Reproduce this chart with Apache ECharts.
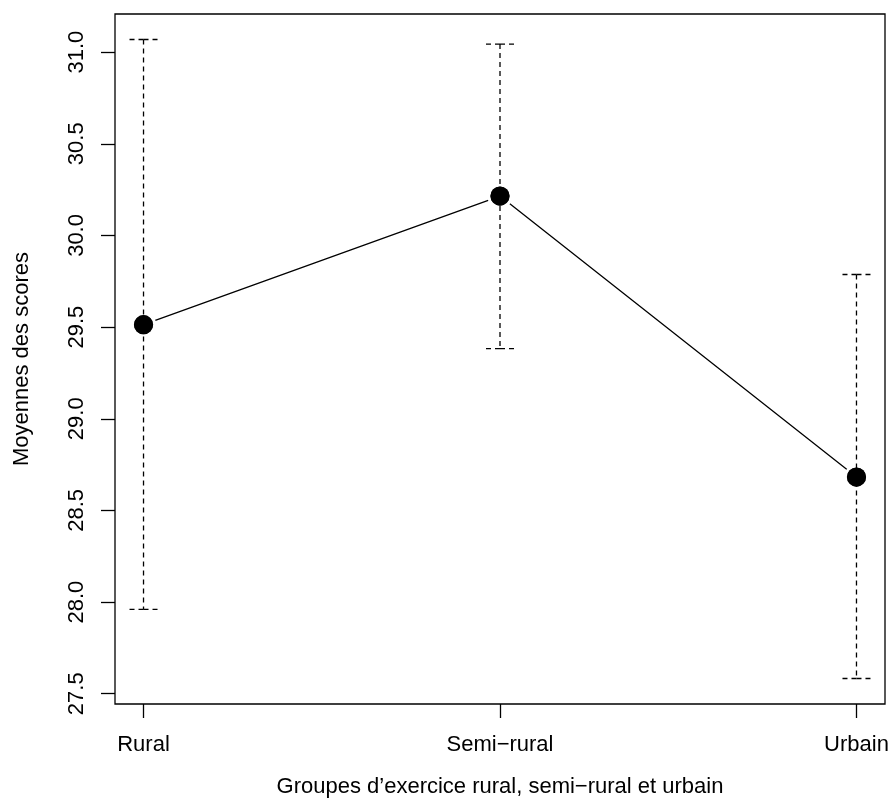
<!DOCTYPE html>
<html>
<head>
<meta charset="utf-8">
<script src="https://cdn.jsdelivr.net/npm/echarts@6/dist/echarts.min.js"></script>
<style>
html,body{margin:0;padding:0;background:#fff;}
#chart{width:892px;height:811px;}
</style>
</head>
<body>
<div id="chart"></div>
<script>
const categories = ['Rural', 'Semi\u2212rural', 'Urbain'];
const means = [29.513, 30.215, 28.682];
const lower = [27.960, 29.383, 27.583];
const upper = [31.069, 31.044, 29.787];
const yTicks = [27.5, 28.0, 28.5, 29.0, 29.5, 30.0, 30.5, 31.0];
const xTicks = [1, 2, 3];

const FONT = "'Liberation Sans', Arial, Helvetica, sans-serif";
const FS = 22;

const meanData = means.map((m, i) => [i + 1, m]);
const barData = means.map((m, i) => [i + 1, lower[i], upper[i]]);

const chart = echarts.init(document.getElementById('chart'), null, {renderer: 'canvas'});
chart.setOption({
  animation: false,
  backgroundColor: '#ffffff',
  grid: {left: 115, right: 7, top: 14, bottom: 107, show: true, borderColor: '#000', borderWidth: 1.3, backgroundColor: 'transparent'},
  xAxis: {
    type: 'value', min: 0.92, max: 3.08,
    name: 'Groupes d\u2019exercice rural, semi\u2212rural et urbain',
    nameLocation: 'middle', nameGap: 72,
    nameTextStyle: {fontFamily: FONT, fontSize: FS, color: '#000'},
    axisLine: {show: false},
    splitLine: {show: false},
    axisTick: {show: true, inside: false, length: 14, customValues: xTicks, lineStyle: {color: '#000', width: 1.3}},
    axisLabel: {customValues: xTicks, margin: 30, fontFamily: FONT, fontSize: FS, color: '#000',
      formatter: v => categories[Math.round(v) - 1]}
  },
  yAxis: {
    type: 'value', min: 27.444, max: 31.208,
    name: 'Moyennes des scores',
    nameLocation: 'middle', nameGap: 82,
    nameTextStyle: {fontFamily: FONT, fontSize: FS, color: '#000'},
    axisLine: {show: false},
    splitLine: {show: false},
    axisTick: {show: true, inside: false, length: 14, customValues: yTicks, lineStyle: {color: '#000', width: 1.3}},
    axisLabel: {customValues: yTicks, margin: 27, rotate: 90, fontFamily: FONT, fontSize: FS, color: '#000',
      formatter: v => v.toFixed(1)}
  },
  series: [
    {
      type: 'line', data: meanData, z: 2,
      symbol: 'circle', symbolSize: 22.2,
      lineStyle: {color: '#000', width: 1.3},
      itemStyle: {color: '#000', borderColor: '#fff', borderWidth: 3}
    },
    {
      type: 'custom', data: barData, z: 3,
      renderItem: function (params, api) {
        const x = api.value(0);
        const lo = api.coord([x, api.value(1)]);
        const hi = api.coord([x, api.value(2)]);
        const hw = 17;
        const style = {stroke: '#000', lineWidth: 1.3, lineDash: [5, 4], fill: null};
        return {
          type: 'group',
          children: [
            {type: 'line', shape: {x1: hi[0], y1: hi[1], x2: lo[0], y2: lo[1]}, style: style},
            {type: 'line', shape: {x1: hi[0], y1: hi[1], x2: hi[0] - hw, y2: hi[1]}, style: style},
            {type: 'line', shape: {x1: hi[0], y1: hi[1], x2: hi[0] + hw, y2: hi[1]}, style: style},
            {type: 'line', shape: {x1: lo[0], y1: lo[1], x2: lo[0] - hw, y2: lo[1]}, style: style},
            {type: 'line', shape: {x1: lo[0], y1: lo[1], x2: lo[0] + hw, y2: lo[1]}, style: style}
          ]
        };
      }
    },
    {
      type: 'scatter', data: meanData, z: 4,
      symbol: 'circle', symbolSize: 19.2,
      itemStyle: {color: '#000'}
    }
  ]
});
</script>
</body>
</html>
